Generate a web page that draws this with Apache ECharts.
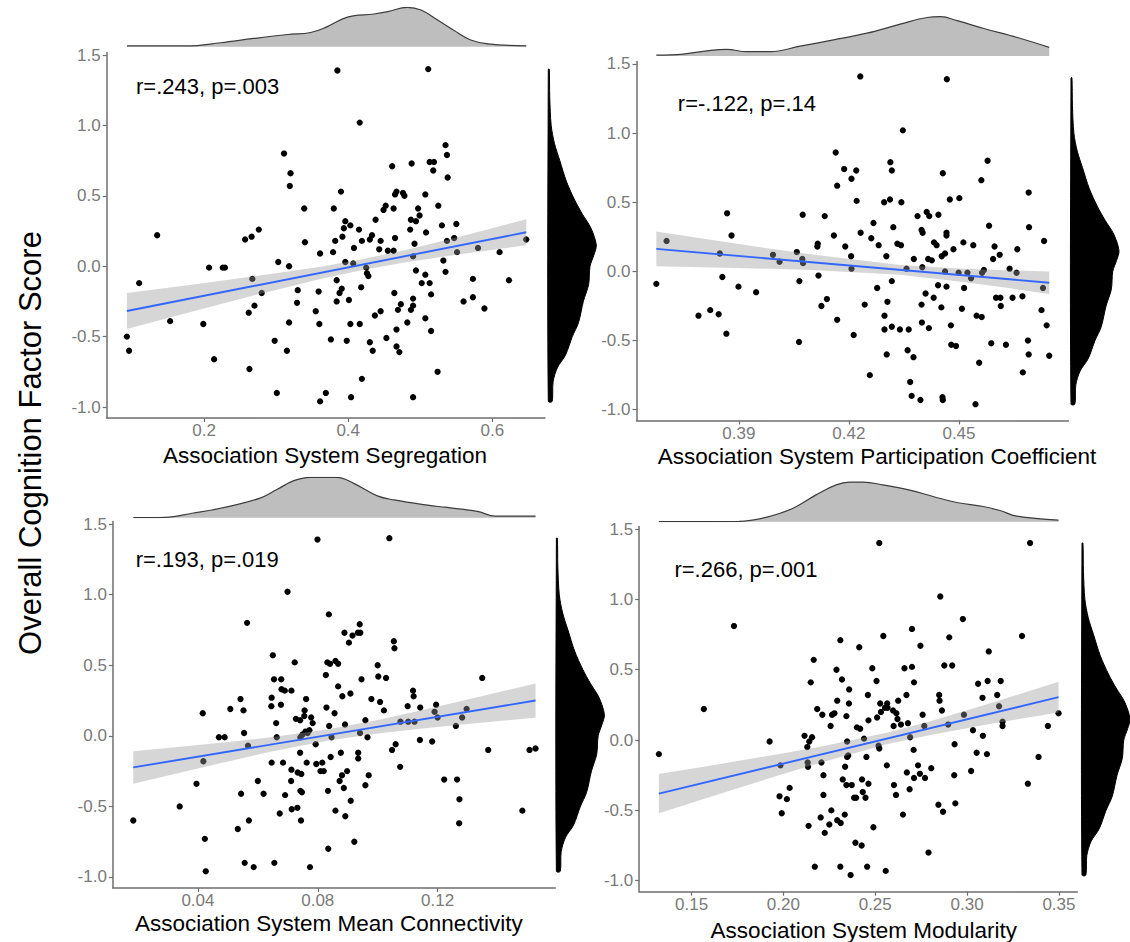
<!DOCTYPE html>
<html>
<head>
<meta charset="utf-8">
<script src="https://cdn.jsdelivr.net/npm/echarts@6/dist/echarts.min.js"></script>
<style>
html,body{margin:0;padding:0;background:#fff;}
#chart{width:1130px;height:942px;}
</style>
</head>
<body>
<div id="chart"></div>
<script>
// ---------------- DATA ----------------
const yAxisTitle = 'Overall Cognition Factor Score';
const xTitles = ['Association System Segregation', 'Association System Participation Coefficient',
                 'Association System Mean Connectivity', 'Association System Modularity'];
const statLabels = ['r=.243, p=.003', 'r=-.122, p=.14', 'r=.193, p=.019', 'r=.266, p=.001'];

const yTicks = [-1.0, -0.5, 0.0, 0.5, 1.0, 1.5];
const yRange = [-1.078, 1.518];
const xTicks1 = [0.2, 0.4, 0.6];
const xTicks2 = [0.39, 0.42, 0.45];
const xTicks3 = [0.04, 0.08, 0.12];
const xTicks4 = [0.15, 0.20, 0.25, 0.30, 0.35];
const xRange1 = [0.065, 0.673];
const xRange2 = [0.3621, 0.4798];
const xRange3 = [0.0116, 0.1593];
const xRange4 = [0.1215, 0.3600];

// scatter points [x, y]
const segregation = [
[0.093,-0.50],[0.096,-0.60],[0.110,-0.12],[0.135,0.22],[0.153,-0.39],[0.199,-0.41],[0.207,-0.01],[0.214,-0.66],[0.226,-0.01],[0.229,-0.01],
[0.257,0.19],[0.266,0.21],[0.276,0.26],[0.267,-0.09],[0.280,-0.19],[0.270,-0.28],[0.262,-0.33],[0.263,-0.73],[0.298,-0.53],[0.301,-0.90],
[0.303,0.03],[0.311,0.80],[0.320,0.66],[0.319,0.57],[0.318,0.00],[0.318,-0.40],[0.315,-0.60],[0.330,-0.17],[0.329,-0.26],[0.339,0.41],
[0.340,0.17],[0.355,-0.32],[0.359,-0.18],[0.360,-0.41],[0.361,0.09],[0.361,-0.96],[0.369,-0.90],[0.376,-0.52],[0.379,0.10],[0.380,0.41],
[0.382,0.18],[0.385,1.39],[0.384,-0.10],[0.384,-0.25],[0.388,-0.19],[0.391,-0.16],[0.390,0.53],[0.392,0.21],[0.394,0.27],[0.396,0.32],
[0.396,0.03],[0.398,-0.53],[0.401,-0.24],[0.403,0.29],[0.403,-0.41],[0.404,-0.93],[0.408,0.13],[0.407,0.02],[0.415,0.26],[0.416,1.02],
[0.416,-0.41],[0.418,-0.15],[0.419,0.18],[0.419,-0.80],[0.425,-0.01],[0.426,-0.05],[0.428,-0.07],[0.430,0.19],[0.433,0.22],[0.430,-0.54],
[0.434,-0.60],[0.438,0.33],[0.437,-0.35],[0.443,0.12],[0.445,0.18],[0.445,-0.32],[0.449,0.40],[0.452,0.43],[0.453,-0.51],[0.455,0.11],
[0.461,0.71],[0.463,0.41],[0.463,0.11],[0.464,-0.19],[0.465,0.20],[0.465,0.51],[0.467,0.53],[0.467,-0.57],[0.467,-0.45],[0.469,-0.31],
[0.471,-0.61],[0.473,-0.27],[0.476,0.52],[0.478,0.50],[0.482,-0.40],[0.486,0.26],[0.487,0.33],[0.488,0.73],[0.487,-0.31],[0.490,-0.28],
[0.490,-0.93],[0.490,-0.23],[0.490,0.07],[0.492,0.16],[0.494,0.32],[0.494,-0.03],[0.497,0.41],[0.499,0.36],[0.507,0.51],[0.507,-0.06],
[0.507,-0.37],[0.508,0.24],[0.502,-0.12],[0.511,1.40],[0.513,0.74],[0.519,0.74],[0.518,0.68],[0.513,-0.12],[0.515,-0.20],[0.515,-0.46],
[0.525,0.43],[0.524,-0.75],[0.530,0.29],[0.532,0.04],[0.535,-0.04],[0.535,0.86],[0.537,0.79],[0.538,0.63],[0.537,0.18],[0.550,0.30],
[0.547,0.20],[0.551,0.10],[0.560,-0.25],[0.573,-0.09],[0.573,-0.22],[0.580,0.13],[0.589,-0.30],[0.610,0.10],[0.623,-0.10],[0.647,0.19]
];
const participation = [
[0.3675,-0.09],[0.3703,0.22],[0.3790,-0.32],[0.3822,-0.28],[0.3845,-0.31],[0.3848,0.13],[0.3855,-0.04],[0.3866,-0.45],[0.3868,0.42],[0.3880,0.26],
[0.3899,-0.11],[0.3947,-0.15],[0.3993,0.12],[0.4011,0.07],[0.4058,0.14],[0.4064,-0.51],[0.4065,-0.07],[0.4073,0.09],[0.4075,0.06],[0.4074,0.41],
[0.4114,0.18],[0.4115,0.20],[0.4117,-0.03],[0.4125,-0.25],[0.4134,0.40],[0.4140,-0.20],[0.4159,0.26],[0.4164,0.86],[0.4168,0.62],[0.4168,-0.35],
[0.4187,0.74],[0.4190,0.18],[0.4206,0.11],[0.4207,0.67],[0.4207,0.02],[0.4213,-0.46],[0.4220,0.73],[0.4221,0.51],[0.4231,1.41],[0.4232,0.28],
[0.4243,-0.24],[0.4257,-0.75],[0.4261,0.24],[0.4267,0.35],[0.4277,-0.12],[0.4281,0.19],[0.4296,0.50],[0.4297,-0.32],[0.4297,-0.42],[0.4302,0.11],
[0.4303,-0.60],[0.4305,-0.22],[0.4312,0.52],[0.4313,0.79],[0.4317,0.73],[0.4317,-0.07],[0.4317,-0.40],[0.4321,0.32],[0.4332,0.20],[0.4342,0.19],
[0.4339,-0.42],[0.4343,0.50],[0.4347,1.02],[0.4357,0.02],[0.4363,-0.42],[0.4360,-0.57],[0.4367,-0.80],[0.4371,-0.90],[0.4376,-0.62],[0.4377,0.09],
[0.4387,0.40],[0.4395,-0.93],[0.4398,0.30],[0.4400,0.03],[0.4398,-0.24],[0.4399,-0.37],[0.4401,0.28],[0.4409,-0.16],[0.4412,0.43],[0.4419,0.40],
[0.4418,-0.41],[0.4416,0.09],[0.4426,0.08],[0.4431,-0.19],[0.4432,0.21],[0.4439,0.19],[0.4444,0.41],[0.4443,-0.10],[0.4452,-0.26],[0.4453,0.11],
[0.4456,0.71],[0.4455,-0.91],[0.4456,-0.93],[0.4462,0.13],[0.4462,0.00],[0.4466,0.28],[0.4466,0.26],[0.4466,-0.11],[0.4467,1.39],[0.4475,0.52],
[0.4478,-0.39],[0.4479,-0.53],[0.4485,0.16],[0.4492,-0.54],[0.4501,0.53],[0.4499,-0.01],[0.4508,-0.27],[0.4512,0.21],[0.4514,-0.12],[0.4523,-0.01],
[0.4533,-0.05],[0.4539,0.19],[0.4545,-0.96],[0.4548,-0.32],[0.4555,-0.66],[0.4561,0.66],[0.4562,-0.33],[0.4563,-0.01],[0.4568,0.01],[0.4578,0.80],
[0.4582,0.33],[0.4588,-0.52],[0.4593,0.09],[0.4597,0.18],[0.4601,-0.19],[0.4611,0.12],[0.4613,-0.19],[0.4614,-0.25],[0.4628,-0.53],[0.4638,0.02],
[0.4646,-0.19],[0.4659,0.16],[0.4657,-0.01],[0.4673,-0.18],[0.4674,-0.73],[0.4688,-0.50],[0.4690,0.57],[0.4691,0.32],[0.4690,-0.60],[0.4725,-0.28],
[0.4729,-0.12],[0.4732,0.22],[0.4739,-0.39],[0.4746,-0.61]
];
const connectivity = [
[0.0184,-0.60],[0.0339,-0.50],[0.0395,-0.34],[0.0416,0.16],[0.0418,-0.18],[0.0423,-0.73],[0.0426,-0.96],[0.0470,-0.01],[0.0489,-0.01],[0.0508,0.19],
[0.0533,-0.66],[0.0542,0.26],[0.0544,-0.41],[0.0552,0.18],[0.0554,0.02],[0.0556,-0.90],[0.0564,0.80],[0.0567,-0.07],[0.0570,-0.60],[0.0586,-0.93],
[0.0600,-0.32],[0.0619,-0.41],[0.0645,0.21],[0.0646,0.27],[0.0650,0.57],[0.0646,-0.19],[0.0654,0.40],[0.0655,-0.90],[0.0661,0.09],[0.0663,-0.01],
[0.0673,-0.55],[0.0678,0.40],[0.0679,0.33],[0.0677,0.22],[0.0684,-0.19],[0.0690,0.32],[0.0691,-0.42],[0.0699,1.02],[0.0712,0.32],[0.0713,-0.52],
[0.0711,-0.32],[0.0712,-0.24],[0.0723,0.52],[0.0727,0.12],[0.0732,-0.51],[0.0733,-0.26],[0.0741,-0.12],[0.0741,0.11],[0.0742,-0.01],[0.0742,-0.39],
[0.0744,-0.60],[0.0745,-0.27],[0.0747,-0.40],[0.0749,0.01],[0.0755,0.14],[0.0756,0.18],[0.0759,0.03],[0.0761,0.26],[0.0763,-0.19],[0.0766,0.02],
[0.0772,0.04],[0.0774,-0.93],[0.0778,0.13],[0.0783,0.09],[0.0793,-0.06],[0.0795,-0.20],[0.0799,1.39],[0.0809,-0.25],[0.0815,-0.19],[0.0820,-0.25],
[0.0827,0.43],[0.0829,0.20],[0.0832,0.52],[0.0834,-0.39],[0.0835,-0.80],[0.0837,0.86],[0.0838,0.07],[0.0841,0.51],[0.0843,-0.15],[0.0846,-0.01],
[0.0856,0.16],[0.0859,-0.53],[0.0859,0.53],[0.0868,0.51],[0.0868,0.35],[0.0873,-0.32],[0.0877,-0.12],[0.0881,-0.28],[0.0882,0.28],[0.0887,-0.37],
[0.0889,0.73],[0.0891,0.08],[0.0892,-0.57],[0.0898,-0.25],[0.0904,0.66],[0.0909,0.30],[0.0910,-0.46],[0.0916,0.71],[0.0922,-0.75],[0.0934,0.73],
[0.0940,0.79],[0.0942,0.73],[0.0935,-0.12],[0.0935,-0.16],[0.0941,0.02],[0.0946,0.40],[0.0959,0.11],[0.0959,-0.35],[0.0966,-0.01],[0.0970,-0.28],
[0.0979,0.26],[0.1000,0.50],[0.1002,0.42],[0.1008,0.24],[0.1021,0.18],[0.1028,0.41],[0.1039,1.40],[0.1048,-0.10],[0.1054,0.67],[0.1056,0.62],
[0.1060,-0.06],[0.1075,-0.22],[0.1076,0.10],[0.1100,0.21],[0.1102,0.10],[0.1118,0.32],[0.1120,0.28],[0.1123,0.10],[0.1142,0.20],[0.1141,-0.03],
[0.1182,-0.04],[0.1190,0.17],[0.1195,0.22],[0.1200,0.13],[0.1222,-0.31],[0.1261,0.07],[0.1265,-0.31],[0.1273,-0.45],[0.1272,-0.62],[0.1282,0.13],
[0.1297,0.19],[0.1349,0.41],[0.1369,-0.10],[0.1483,-0.53],[0.1507,-0.10],[0.1527,-0.09]
];
const modularity = [
[0.1322,-0.10],[0.1567,0.22],[0.1731,0.81],[0.1925,-0.01],[0.1979,-0.40],[0.1984,-0.18],[0.1991,-0.52],[0.2019,-0.42],[0.2034,-0.34],[0.2115,0.03],
[0.2130,-0.05],[0.2132,-0.16],[0.2134,-0.19],[0.2137,-0.61],[0.2149,0.41],[0.2141,-0.01],[0.2156,0.02],[0.2165,0.57],[0.2171,-0.90],[0.2184,0.22],
[0.2203,-0.55],[0.2207,-0.16],[0.2212,0.18],[0.2218,-0.25],[0.2218,-0.39],[0.2225,-0.66],[0.2250,-0.60],[0.2257,0.10],[0.2261,-0.50],[0.2265,0.18],
[0.2278,0.19],[0.2289,0.50],[0.2293,0.28],[0.2293,-0.57],[0.2310,-0.90],[0.2310,0.71],[0.2312,-0.59],[0.2319,0.43],[0.2323,-0.28],[0.2334,-0.53],
[0.2336,-0.19],[0.2343,0.17],[0.2343,-0.32],[0.2347,-0.01],[0.2347,-0.12],[0.2353,-0.11],[0.2358,0.36],[0.2357,0.26],[0.2366,-0.96],[0.2372,-0.32],
[0.2385,-0.41],[0.2396,-0.41],[0.2392,-0.73],[0.2400,0.09],[0.2413,0.66],[0.2418,0.08],[0.2426,-0.75],[0.2428,-0.28],[0.2432,-0.37],[0.2439,0.01],
[0.2447,-0.41],[0.2452,-0.12],[0.2456,-0.90],[0.2460,0.32],[0.2463,-0.31],[0.2463,0.14],[0.2484,0.51],[0.2490,-0.62],[0.2507,0.42],[0.2510,0.16],
[0.2518,-0.04],[0.2522,-0.06],[0.2522,1.40],[0.2527,0.26],[0.2531,0.20],[0.2544,0.74],[0.2553,0.23],[0.2563,-0.18],[0.2565,0.26],[0.2557,-0.93],
[0.2567,0.23],[0.2597,0.21],[0.2600,0.10],[0.2602,-0.32],[0.2613,-0.39],[0.2615,0.19],[0.2621,0.15],[0.2625,0.28],[0.2640,0.11],[0.2651,-0.53],
[0.2659,0.51],[0.2670,0.32],[0.2672,-0.23],[0.2678,0.12],[0.2687,-0.35],[0.2690,0.02],[0.2700,0.52],[0.2700,0.79],[0.2709,-0.07],[0.2711,0.41],
[0.2711,-0.27],[0.2733,-0.18],[0.2743,-0.24],[0.2746,0.67],[0.2758,0.18],[0.2767,0.10],[0.2771,-0.27],[0.2790,-0.80],[0.2805,-0.20],[0.2844,-0.46],
[0.2848,0.32],[0.2850,0.28],[0.2854,1.02],[0.2863,0.21],[0.2869,-0.51],[0.2876,0.53],[0.2897,0.11],[0.2903,0.73],[0.2919,0.53],[0.2932,-0.03],
[0.2930,-0.25],[0.2936,-0.45],[0.2977,0.86],[0.2983,0.18],[0.3022,-0.22],[0.3032,0.07],[0.3052,-0.09],[0.3060,0.40],[0.3084,0.30],[0.3086,0.03],
[0.3108,-0.10],[0.3112,0.42],[0.3118,0.63],[0.3164,0.32],[0.3174,0.24],[0.3183,0.42],[0.3193,0.13],[0.3193,0.10],[0.3299,0.74],[0.3331,-0.31],
[0.3343,1.40],[0.3389,-0.12],[0.3440,0.10],[0.3498,0.19]
];

// linear fit lines (end points) and confidence bands
const fit1X = [0.093, 0.647],  fit1Y = [-0.318, 0.241];
const fit2X = [0.3675, 0.4746], fit2Y = [0.163, -0.082];
const fit3X = [0.0184, 0.1527], fit3Y = [-0.224, 0.250];
const fit4X = [0.1322, 0.3498], fit4Y = [-0.381, 0.305];

const band1X  = [0.093, 0.18, 0.27, 0.36, 0.42, 0.48, 0.56, 0.647];
const band1Lo = [-0.445, -0.327, -0.206, -0.093, -0.026, 0.028, 0.089, 0.149];
const band1Hi = [-0.191, -0.133, -0.072, -0.005, 0.050, 0.116, 0.217, 0.333];
const band2X  = [0.3675, 0.38, 0.395, 0.41, 0.4339, 0.45, 0.462, 0.4746];
const band2Lo = [0.038, 0.031, 0.0215, 0.0097, -0.0249, -0.072, -0.1152, -0.1635];
const band2Hi = [0.288, 0.238, 0.1787, 0.1219, 0.0471, 0.0204, 0.0088, -0.0005];
const band3X  = [0.0184, 0.035, 0.05, 0.065, 0.0836, 0.10, 0.115, 0.13, 0.1527];
const band3Lo = [-0.3395, -0.2555, -0.1812, -0.110, -0.0339, 0.0156, 0.0512, 0.083, 0.1284];
const band3Hi = [-0.1085, -0.0753, -0.0438, -0.009, 0.0461, 0.1124, 0.1826, 0.2566, 0.3714];
const band4X  = [0.1322, 0.16, 0.19, 0.22, 0.2563, 0.28, 0.31, 0.3498];
const band4Lo = [-0.5205, -0.4046, -0.281, -0.1608, -0.0307, 0.0367, 0.1088, 0.1966];
const band4Hi = [-0.2415, -0.182, -0.1166, -0.0476, 0.0513, 0.1333, 0.2504, 0.4136];

// marginal densities (relative height) [x, density]
const dens1 = [[0.093,0.02],[0.176,0.02],[0.223,0.10],[0.269,0.21],[0.316,0.31],[0.348,0.36],[0.371,0.51],[0.399,0.75],[0.436,0.83],[0.455,0.89],[0.482,1.0],[0.501,0.93],[0.524,0.68],[0.547,0.41],[0.570,0.17],[0.594,0.07],[0.647,0.02]];
const dens2 = [[0.3675,0.02],[0.3748,0.05],[0.3830,0.15],[0.3866,0.17],[0.3921,0.11],[0.3985,0.11],[0.4067,0.25],[0.4158,0.41],[0.4249,0.58],[0.4340,0.81],[0.4413,0.98],[0.4450,1.0],[0.4495,0.90],[0.4568,0.70],[0.4659,0.47],[0.4746,0.22]];
const dens3 = [[0.0184,0.0],[0.0291,0.01],[0.0381,0.11],[0.0493,0.26],[0.0605,0.48],[0.0662,0.69],[0.0718,0.91],[0.0774,1.0],[0.0864,1.0],[0.0920,0.85],[0.0999,0.54],[0.1055,0.44],[0.1167,0.31],[0.1224,0.26],[0.1280,0.21],[0.1336,0.15],[0.1392,0.04],[0.1527,0.04]];
const dens4 = [[0.1322,0.0],[0.1759,0.01],[0.1905,0.11],[0.2050,0.33],[0.2178,0.67],[0.2287,0.92],[0.2360,0.99],[0.2433,0.99],[0.2542,0.92],[0.2688,0.79],[0.2815,0.63],[0.2943,0.48],[0.3088,0.38],[0.3179,0.28],[0.3270,0.14],[0.3498,0.04]];
// marginal density of the cognition score [y, density]
const densScore = [[1.40,0.02],[1.20,0.03],[1.00,0.06],[0.87,0.13],[0.75,0.24],[0.60,0.38],[0.47,0.55],[0.37,0.71],[0.27,0.89],[0.15,1.0],[0.08,0.95],[0.00,0.87],[-0.13,0.84],[-0.25,0.73],[-0.40,0.63],[-0.50,0.50],[-0.63,0.36],[-0.72,0.19],[-0.82,0.10],[-0.96,0.08]];

// ---------------- LAYOUT / STYLE ----------------
const FONT = '"Liberation Sans", Arial, Helvetica, sans-serif';
const AXIS_COLOR = '#6e6e6e';
const LABEL_COLOR = '#7a7a7a';

const panels = [
  {pts: segregation,   fitX: fit1X, fitY: fit1Y, bx: band1X, blo: band1Lo, bhi: band1Hi, dens: dens1, ticks: xTicks1, xr: xRange1, dec: 1},
  {pts: participation, fitX: fit2X, fitY: fit2Y, bx: band2X, blo: band2Lo, bhi: band2Hi, dens: dens2, ticks: xTicks2, xr: xRange2, dec: 2},
  {pts: connectivity,  fitX: fit3X, fitY: fit3Y, bx: band3X, blo: band3Lo, bhi: band3Hi, dens: dens3, ticks: xTicks3, xr: xRange3, dec: 2},
  {pts: modularity,    fitX: fit4X, fitY: fit4Y, bx: band4X, blo: band4Lo, bhi: band4Hi, dens: dens4, ticks: xTicks4, xr: xRange4, dec: 2}
];
const layout = [
  {main: [106.7, 52.5, 438.3, 365.5], top: [7.3, 39.4],  right: [548.3, 48], stat: [136, 86.7],   title: [325, 455]},
  {main: [636.5, 61.5, 431.8, 359.0], top: [16.7, 39.3], right: [1071, 48],  stat: [677.8, 103.3], title: [877, 456]},
  {main: [112.9, 521.5, 442.4, 366.5], top: [477.3, 40.4], right: [556.4, 48], stat: [135.7, 559.3], title: [328.8, 923]},
  {main: [639.2, 526.5, 438.1, 365.2], top: [481.7, 40.0], right: [1082, 48],  stat: [674.4, 569],   title: [863.8, 930]}
];

const grids = [], xAxes = [], yAxes = [], series = [], graphics = [];

panels.forEach((p, i) => {
  const L = layout[i];
  const g = i * 3;
  const [ml, mt, mw, mh] = L.main;
  grids.push({left: ml, top: mt, width: mw, height: mh, containLabel: false, outerBoundsMode: 'none'});
  grids.push({left: ml, top: L.top[0], width: mw, height: L.top[1], containLabel: false, outerBoundsMode: 'none'});
  grids.push({left: L.right[0], top: mt, width: L.right[1], height: mh, containLabel: false, outerBoundsMode: 'none'});

  xAxes.push({
    gridIndex: g, type: 'value', min: p.xr[0], max: p.xr[1],
    axisLine: {show: true, onZero: false, lineStyle: {color: AXIS_COLOR, width: 1.5}},
    axisTick: {show: true, length: 4, customValues: p.ticks, lineStyle: {color: AXIS_COLOR, width: 1.2}},
    axisLabel: {customValues: p.ticks, formatter: v => Number(v).toFixed(p.dec),
                color: LABEL_COLOR, fontSize: 17, fontFamily: FONT, margin: 4},
    splitLine: {show: false}
  });
  yAxes.push({
    gridIndex: g, type: 'value', min: yRange[0], max: yRange[1],
    axisLine: {show: true, onZero: false, lineStyle: {color: AXIS_COLOR, width: 1.5}},
    axisTick: {show: true, length: 4, customValues: yTicks, lineStyle: {color: AXIS_COLOR, width: 1.2}},
    axisLabel: {customValues: yTicks, formatter: v => Number(v).toFixed(1),
                color: LABEL_COLOR, fontSize: 17, fontFamily: FONT, margin: 6},
    splitLine: {show: false}
  });
  xAxes.push({gridIndex: g + 1, type: 'value', min: p.xr[0], max: p.xr[1], show: false});
  yAxes.push({gridIndex: g + 1, type: 'value', min: 0, max: 1, show: false});
  xAxes.push({gridIndex: g + 2, type: 'value', min: 0, max: 1, show: false});
  yAxes.push({gridIndex: g + 2, type: 'value', min: yRange[0], max: yRange[1], show: false});

  series.push({
    type: 'scatter', xAxisIndex: g, yAxisIndex: g, data: p.pts,
    symbol: 'circle', symbolSize: 6.3, itemStyle: {color: '#000', opacity: 1}, z: 2, silent: true
  });
  series.push({
    type: 'custom', xAxisIndex: g, yAxisIndex: g, z: 3, silent: true,
    data: p.bx.map((x, k) => [x, p.blo[k]]),
    renderItem: (params, api) => {
      if (params.dataIndex !== 0) return null;
      const up = p.bx.map((x, k) => api.coord([x, p.bhi[k]]));
      const lo = p.bx.map((x, k) => api.coord([x, p.blo[k]])).reverse();
      return {type: 'polygon', shape: {points: up.concat(lo)},
              style: {fill: 'rgba(153,153,153,0.4)', stroke: null}};
    }
  });
  series.push({
    type: 'line', xAxisIndex: g, yAxisIndex: g, z: 4, silent: true,
    data: p.fitX.map((x, k) => [x, p.fitY[k]]),
    symbol: 'none', lineStyle: {color: '#3366FF', width: 1.9}
  });
  series.push({
    type: 'line', xAxisIndex: g + 1, yAxisIndex: g + 1, silent: true,
    data: p.dens, smooth: 0.4, symbol: 'none',
    lineStyle: {color: '#3c3c3c', width: 1.2},
    areaStyle: {color: '#BEBEBE', opacity: 1}
  });
  series.push({
    type: 'custom', xAxisIndex: g + 2, yAxisIndex: g + 2, silent: true,
    data: densScore.map(d => [d[1], d[0]]),
    renderItem: (params, api) => {
      if (params.dataIndex !== 0) return null;
      const pts = [api.coord([0, densScore[0][0]])]
        .concat(densScore.map(d => api.coord([d[1], d[0]])))
        .concat([api.coord([0, densScore[densScore.length - 1][0]])]);
      return {type: 'polygon', shape: {points: pts, smooth: 0.3},
              style: {fill: '#000', stroke: '#000', lineWidth: 1}};
    }
  });

  graphics.push({
    type: 'text', x: L.stat[0], y: L.stat[1], silent: true,
    style: {text: statLabels[i], font: '22px ' + FONT, fill: '#000',
            align: 'left', verticalAlign: 'middle', textAlign: 'left', textVerticalAlign: 'middle'}
  });
  graphics.push({
    type: 'text', x: L.title[0], y: L.title[1], silent: true,
    style: {text: xTitles[i], font: '22.5px ' + FONT, fill: '#000',
            align: 'center', verticalAlign: 'middle', textAlign: 'center', textVerticalAlign: 'middle'}
  });
});

graphics.push({
  type: 'text', x: 30, y: 443, rotation: Math.PI / 2, silent: true,
  style: {text: yAxisTitle, font: '31px ' + FONT, fill: '#000',
          align: 'center', verticalAlign: 'middle', textAlign: 'center', textVerticalAlign: 'middle'}
});

const chart = echarts.init(document.getElementById('chart'), null, {renderer: 'svg'});
chart.setOption({
  backgroundColor: '#fff',
  animation: false,
  grid: grids,
  xAxis: xAxes,
  yAxis: yAxes,
  series: series,
  graphic: {elements: graphics}
});
</script>
</body>
</html>
